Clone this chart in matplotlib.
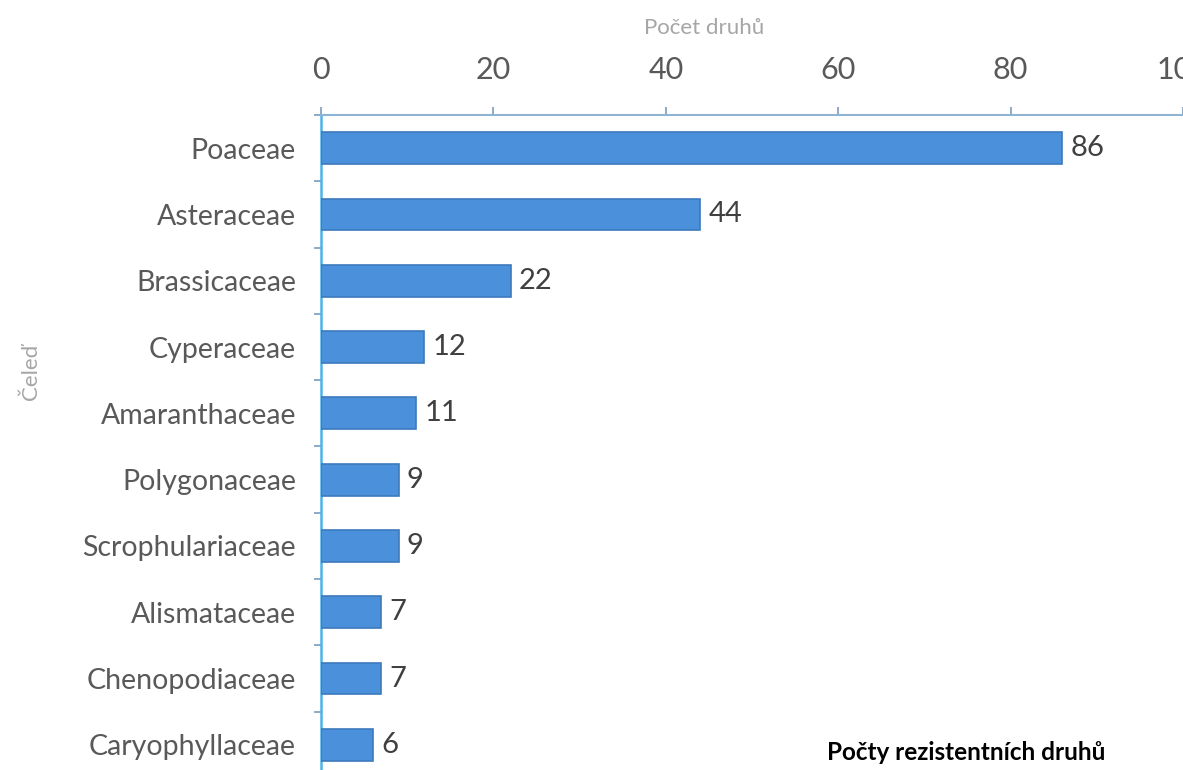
import numpy as np
import matplotlib.pyplot as plt

# data
families = ["Poaceae", "Asteraceae", "Brassicaceae", "Cyperaceae", "Amaranthaceae",
            "Polygonaceae", "Scrophulariaceae", "Alismataceae", "Chenopodiaceae",
            "Caryophyllaceae"]
counts = [86, 44, 22, 12, 11, 9, 9, 7, 7, 6]
xticks = [0, 20, 40, 60, 80, 100]

plt.rcParams['font.family'] = ['Lato', 'DejaVu Sans']

fig = plt.figure(figsize=(11.83, 7.70), dpi=100)
ax = fig.add_axes([321 / 1183, 1 - 778 / 770, 1 - 321 / 1183, (778 - 115) / 770])

y = np.arange(len(families))
ax.barh(y, counts, height=0.48, color='#4a90da', edgecolor='#3d7abd',
        linewidth=1.2, zorder=3)

for yi, c in zip(y, counts):
    ax.annotate(str(c), (c, yi), xytext=(6, 0), textcoords='offset points',
                va='center', ha='left', fontsize=21, color='#404040')

ax.set_xlim(0, 100)
ax.set_ylim(len(families) - 0.5, -0.5)
ax.xaxis.tick_top()
ax.set_xticks(xticks)
ax.tick_params(axis='x', labelsize=22, labelcolor='#595959', color='#7a9cc0',
               length=6, width=1.2, pad=16)
ax.set_yticks(y)
ax.set_yticklabels(families)
ax.tick_params(axis='y', which='major', length=0, labelsize=20.5, labelcolor='#595959', pad=18)
ax.set_yticks(np.arange(len(families) + 1) - 0.5, minor=True)
ax.tick_params(axis='y', which='minor', length=5, color='#7a9cc0', width=1.2)

for s in ['right', 'bottom']:
    ax.spines[s].set_visible(False)
ax.spines['top'].set_color('#8fb3d3')
ax.spines['top'].set_linewidth(1.5)
ax.spines['left'].set_color('#4fb3e8')
ax.spines['left'].set_linewidth(1.8)

fig.text(704 / 1183, 1 - 28 / 770, "Počet druhů", ha='center', va='center',
         fontsize=16, color='#a6a6a6')
fig.text(31 / 1183, 1 - 372 / 770, "Čeleď", ha='center', va='center',
         rotation=90, fontsize=16, color='#a6a6a6')
fig.text(966 / 1183, 1 - 752 / 770, "Počty rezistentních druhů", ha='center',
         va='center', fontsize=17.5, fontweight='bold', color='black')

fig.savefig("out.png", dpi=100)
